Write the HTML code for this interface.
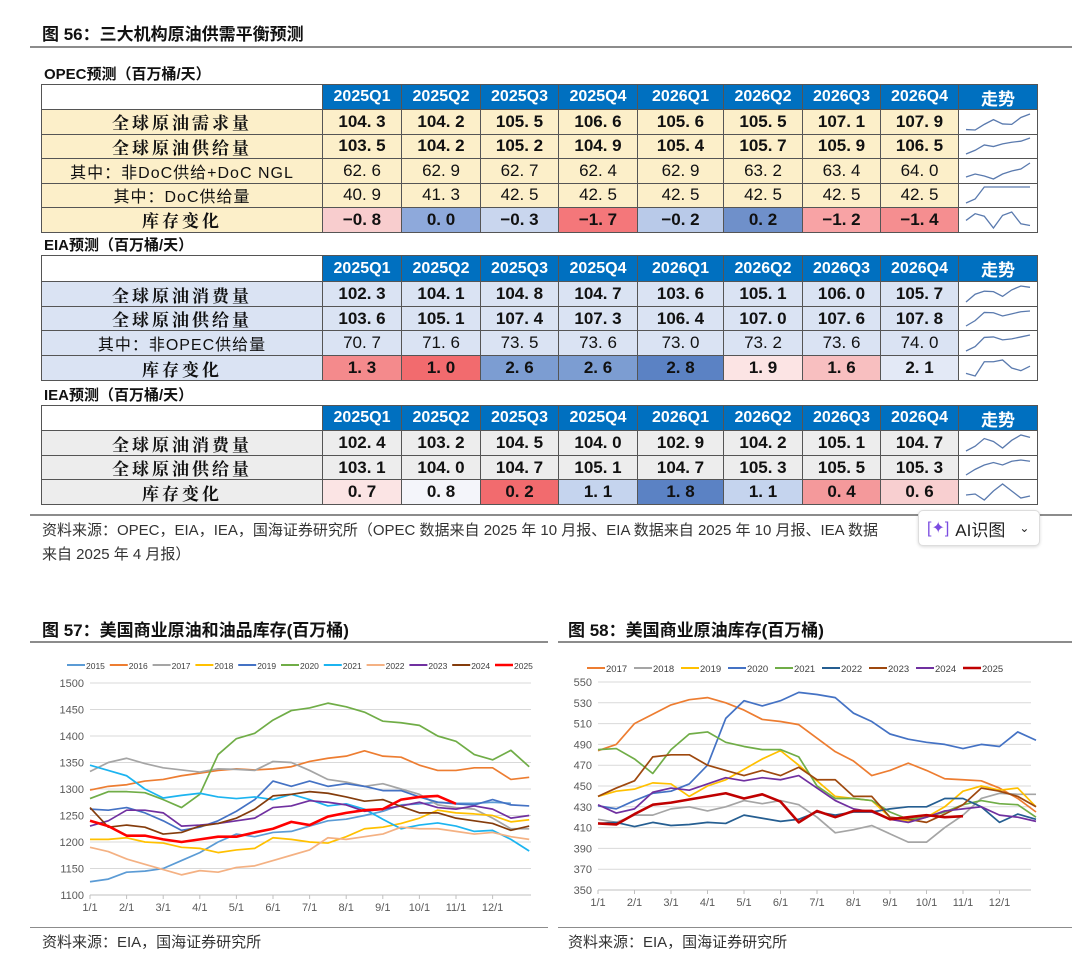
<!DOCTYPE html>
<html><head><meta charset="utf-8">
<style>
body{margin:0;width:1080px;height:966px;background:#fff;position:relative;overflow:hidden;font-family:"Liberation Sans","Noto Sans CJK SC",sans-serif;}
.abs{position:absolute;}
.title{font-weight:bold;font-size:17px;color:#111;font-family:"Liberation Sans","Noto Sans CJK SC",sans-serif;}
.sub{font-weight:bold;font-size:15px;color:#111;}
.hr{position:absolute;height:2px;background:#8c8c8c;}
.cell{position:absolute;box-sizing:border-box;border:1px solid #555;display:flex;align-items:center;justify-content:center;font-size:17px;color:#111;white-space:nowrap;}
.src{font-size:15px;color:#333;white-space:nowrap;}
</style></head><body>
<div class="abs title" style="left:42px;top:20px;">图 56：三大机构原油供需平衡预测</div>
<div class="hr" style="left:30px;top:46px;width:1042px;"></div>
<div class="abs sub" style="left:44px;top:63px;">OPEC预测（百万桶/天）</div>
<div class="abs sub" style="left:44px;top:234px;">EIA预测（百万桶/天）</div>
<div class="abs sub" style="left:44px;top:384px;">IEA预测（百万桶/天）</div>
<div id="tables"></div>
<div class="hr" style="left:30px;top:514px;width:1042px;"></div>
<div class="abs src" style="left:42px;top:519px;">资料来源：OPEC，EIA，IEA，国海证券研究所（OPEC 数据来自 2025 年 10 月报、EIA 数据来自 2025 年 10 月报、IEA 数据</div>
<div class="abs src" style="left:42px;top:543px;">来自 2025 年 4 月报）</div>
<div class="abs" style="left:918px;top:510px;width:120px;height:34px;background:#fff;border:1px solid #ddd;border-radius:5px;box-shadow:0 1px 3px rgba(0,0,0,.15);font-size:17px;color:#222;display:flex;align-items:center;"><span style="color:#7b4ce0;margin:0 6px 0 8px;font-size:16px;">[✦]</span>AI识图<span style="margin-left:14px;font-size:12px;">⌄</span></div>

<div class="abs title" style="left:42px;top:616px;">图 57：美国商业原油和油品库存(百万桶)</div>
<div class="abs title" style="left:568px;top:616px;">图 58：美国商业原油库存(百万桶)</div>
<div class="hr" style="left:30px;top:641px;width:518px;"></div>
<div class="hr" style="left:558px;top:641px;width:514px;"></div>
<svg id="charts" class="abs" style="left:0;top:0" width="1080" height="966"></svg>
<div class="hr" style="left:30px;top:927px;width:518px;height:1px;"></div>
<div class="hr" style="left:558px;top:927px;width:514px;height:1px;"></div>
<div class="abs src" style="left:42px;top:931px;">资料来源：EIA，国海证券研究所</div>
<div class="abs src" style="left:568px;top:931px;">资料来源：EIA，国海证券研究所</div>

<script>
// ---------- table data ----------
const quarters=["2025Q1","2025Q2","2025Q3","2025Q4","2026Q1","2026Q2","2026Q3","2026Q4"];
const opecLabels=["全球原油需求量","全球原油供给量","其中：非DoC供给+DoC NGL","其中：DoC供给量","库存变化"];
const opecDemand=[104.3,104.2,105.5,106.6,105.6,105.5,107.1,107.9];
const opecSupply=[103.5,104.2,105.2,104.9,105.4,105.7,105.9,106.5];
const opecNonDoc=[62.6,62.9,62.7,62.4,62.9,63.2,63.4,64.0];
const opecDoc=[40.9,41.3,42.5,42.5,42.5,42.5,42.5,42.5];
const opecStock=[-0.8,0.0,-0.3,-1.7,-0.2,0.2,-1.2,-1.4];
const eiaLabels=["全球原油消费量","全球原油供给量","其中：非OPEC供给量","库存变化"];
const eiaDemand=[102.3,104.1,104.8,104.7,103.6,105.1,106.0,105.7];
const eiaSupply=[103.6,105.1,107.4,107.3,106.4,107.0,107.6,107.8];
const eiaNonOpec=[70.7,71.6,73.5,73.6,73.0,73.2,73.6,74.0];
const eiaStock=[1.3,1.0,2.6,2.6,2.8,1.9,1.6,2.1];
const ieaLabels=["全球原油消费量","全球原油供给量","库存变化"];
const ieaDemand=[102.4,103.2,104.5,104.0,102.9,104.2,105.1,104.7];
const ieaSupply=[103.1,104.0,104.7,105.1,104.7,105.3,105.5,105.3];
const ieaStock=[0.7,0.8,0.2,1.1,1.8,1.1,0.4,0.6];
const opecStockColors=["#F8CDCE","#8EA9DB","#C9D6EE","#F4777A","#B9CAE9","#6F90CA","#F8A3A5","#F58E90"];
const eiaStockColors=["#F48A8C","#F26B6E","#7C9DD2","#7C9DD2","#5B82C4","#FCE4E4","#F8BFC0","#E3E9F6"];
const ieaStockColors=["#FBE4E4","#F4F5FA","#F26B6E","#C5D4EE","#5B82C4","#C5D4EE","#F4999B","#F8CFD0"];

const colX=[41,322,401,480,558,637,723,802,880,958,1037];
const T=document.getElementById('tables');
function cell(x,y,w,h,txt,bg){
  const d=document.createElement('div');
  d.className='cell';
  d.style.left=x+'px';d.style.top=y+'px';d.style.width=(w+1)+'px';d.style.height=(h+1)+'px';
  d.style.background=bg;
  if(txt!==null)d.textContent=txt;
  T.appendChild(d);return d;
}
function spark(d,vals){
  const w=d.offsetWidth||80,h=d.offsetHeight||25;
  const mn=Math.min(...vals),mx=Math.max(...vals),r=(mx-mn)||1;
  const ns="http://www.w3.org/2000/svg";
  const s=document.createElementNS(ns,'svg');s.setAttribute('width',w);s.setAttribute('height',h);
  const p=document.createElementNS(ns,'polyline');
  p.setAttribute('points',vals.map((v,i)=>(7+i*(w-16)/(vals.length-1))+','+(h-5-(v-mn)/r*(h-10))).join(' '));
  p.setAttribute('fill','none');p.setAttribute('stroke','#5A7AAE');p.setAttribute('stroke-width','1.3');
  s.appendChild(p);d.appendChild(s);
}
function fmt(v){return (v<0?'−':'')+Math.abs(v).toFixed(1).replace('.','. ');}
function table(name,y0,labels,rows,rowBg,stockColors,rowsY,boldRows){
  const h0=cell(colX[0],y0,colX[1]-colX[0],rowsY[0]-y0,'','#fff');
  
  
  for(let q=0;q<8;q++){
    const c=cell(colX[q+1],y0,colX[q+2]-colX[q+1],rowsY[0]-y0,quarters[q],'#0070C0');
    c.style.color='#fff';c.style.fontWeight='bold';c.style.fontSize='16px';
    
    
  }
  const tr=cell(colX[9],y0,colX[10]-colX[9],rowsY[0]-y0,'走势','#0070C0');
  tr.style.color='#fff';tr.style.fontWeight='bold';
  
  
  rows.forEach((vals,r)=>{
    const y=rowsY[r],hh=rowsY[r+1]-rowsY[r];
    const isStock=r===rows.length-1;
    const lc=cell(colX[0],y,colX[1]-colX[0],hh,labels[r],rowBg);
    if(boldRows[r]){lc.style.fontFamily='"Noto Serif CJK SC","Liberation Serif",serif';lc.style.fontWeight='bold';lc.style.letterSpacing='3px';}
    else{lc.style.fontFamily='"Liberation Sans","Noto Sans CJK SC",sans-serif';lc.style.letterSpacing='1px';lc.style.fontSize='16px';}
    
    
    vals.forEach((v,q)=>{
      const c=cell(colX[q+1],y,colX[q+2]-colX[q+1],hh,fmt(v),isStock?stockColors[q]:rowBg);
      c.style.fontWeight=boldRows[r]?'bold':'normal';
      
      
    });
    const sc=cell(colX[9],y,colX[10]-colX[9],hh,null,'#fff');
    
    
    spark(sc,vals);
  });
}
table('opec',84,opecLabels,[opecDemand,opecSupply,opecNonDoc,opecDoc,opecStock],'#FCEFC9',opecStockColors,[109,133.5,158,182.5,207,231.5],[1,1,0,0,1]);
table('eia',255,eiaLabels,[eiaDemand,eiaSupply,eiaNonOpec,eiaStock],'#DAE3F3',eiaStockColors,[281,306,330,355,380],[1,1,0,1]);
table('iea',405,ieaLabels,[ieaDemand,ieaSupply,ieaStock],'#EDEDED',ieaStockColors,[430,455,479,504],[1,1,1]);

// ---------- chart 57 data (half-month points 1/1 .. 12/31) ----------
const c57Years=["2015","2016","2017","2018","2019","2020","2021","2022","2023","2024","2025"];
const c57_2015=[1125,1130,1143,1145,1150,1165,1180,1200,1215,1210,1218,1220,1230,1240,1243,1250,1258,1270,1272,1275,1273,1273,1275,1273,null];
const c57_2016=[1298,1305,1308,1315,1318,1325,1330,1335,1338,1336,1338,1342,1352,1358,1362,1372,1362,1360,1345,1335,1335,1340,1340,1318,1322];
const c57_2017=[1333,1350,1358,1348,1340,1336,1332,1338,1337,1335,1352,1350,1335,1318,1313,1305,1310,1300,1290,1270,1265,1262,1245,1225,1225];
const c57_2018=[1205,1205,1208,1200,1198,1190,1188,1180,1185,1188,1208,1205,1200,1198,1210,1225,1228,1235,1245,1260,1255,1253,1250,1238,1242];
const c57_2019=[1262,1260,1265,1255,1240,1222,1228,1240,1258,1280,1315,1305,1315,1305,1310,1305,1297,1297,1285,1275,1272,1270,1280,1270,1268];
const c57_2020=[1282,1295,1295,1293,1280,1265,1290,1365,1395,1405,1430,1448,1453,1462,1455,1445,1428,1425,1420,1400,1390,1365,1355,1373,1342];
const c57_2021=[1345,1335,1325,1300,1283,1288,1292,1285,1282,1285,1280,1290,1280,1268,1272,1262,1243,1225,1232,1236,1230,1220,1222,1205,1183];
const c57_2022=[1190,1182,1168,1158,1148,1138,1146,1143,1152,1155,1165,1175,1185,1208,1205,1210,1215,1228,1225,1225,1220,1215,1218,1210,1205];
const c57_2023=[1230,1240,1260,1260,1255,1230,1232,1235,1240,1245,1265,1268,1278,1275,1270,1258,1262,1268,1275,1265,1262,1268,1262,1245,1250];
const c57_2024=[1265,1228,1232,1228,1215,1218,1230,1235,1245,1262,1287,1290,1295,1292,1285,1277,1280,1267,1255,1255,1245,1240,1235,1222,1230];
const c57_2025=[1240,1230,1212,1212,1205,1200,1205,1210,1210,1218,1225,1238,1232,1248,1255,1260,1262,1280,1285,1287,1272];
const c57Series=[c57_2015,c57_2016,c57_2017,c57_2018,c57_2019,c57_2020,c57_2021,c57_2022,c57_2023,c57_2024,c57_2025];
const c57Colors=["#5B9BD5","#ED7D31","#A5A5A5","#FFC000","#4472C4","#70AD47","#1CB4F0","#F4B183","#7030A0","#843C0C","#FF0000"];
const c57Ticks=[1100,1150,1200,1250,1300,1350,1400,1450,1500];
const monthLabels=["1/1","2/1","3/1","4/1","5/1","6/1","7/1","8/1","9/1","10/1","11/1","12/1"];

// ---------- chart 58 data ----------
const c58Years=["2017","2018","2019","2020","2021","2022","2023","2024","2025"];
const c58_2017=[484,490,510,519,528,533,535,530,523,514,512,509,496,483,474,460,465,472,465,457,456,455,448,438,425];
const c58_2018=[418,415,422,422,428,430,426,430,436,433,436,432,420,405,408,412,404,396,396,410,422,438,443,442,442];
const c58_2019=[440,445,447,453,452,440,450,456,466,476,484,470,455,440,438,436,420,416,420,430,445,450,446,448,430];
const c58_2020=[431,428,436,443,445,452,470,515,532,527,532,540,538,535,520,512,500,495,492,490,486,490,488,502,494];
const c58_2021=[485,486,476,462,485,500,502,492,488,485,485,478,450,438,438,436,425,418,420,425,432,436,433,432,420];
const c58_2022=[414,415,411,415,412,413,415,414,422,419,416,418,425,422,425,425,428,430,430,438,438,430,415,423,418];
const c58_2023=[440,448,455,478,480,480,470,465,460,465,460,468,456,456,440,440,420,418,415,423,432,448,445,440,430];
const c58_2024=[432,424,428,444,448,446,452,458,455,458,456,460,448,436,428,425,418,415,420,426,428,430,422,420,416];
const c58_2025=[414,413,423,432,434,437,440,443,438,442,435,415,426,420,426,426,418,420,422,420,421];
const c58Series=[c58_2017,c58_2018,c58_2019,c58_2020,c58_2021,c58_2022,c58_2023,c58_2024,c58_2025];
const c58Colors=["#ED7D31","#A5A5A5","#FFC000","#4472C4","#70AD47","#255E91","#9E480E","#7030A0","#C00000"];
const c58Ticks=[350,370,390,410,430,450,470,490,510,530,550];

const NS="http://www.w3.org/2000/svg";
const S=document.getElementById('charts');
function el(tag,attrs){const e=document.createElementNS(NS,tag);for(const k in attrs)e.setAttribute(k,attrs[k]);S.appendChild(e);return e;}
function chart(cfg){
  const X=i=>cfg.x0+i*cfg.mw/2;
  const Y=v=>cfg.yb-(v-cfg.vmin)/(cfg.vmax-cfg.vmin)*(cfg.yb-cfg.yt);
  cfg.ticks.forEach(t=>{
    const g=el('line',{x1:cfg.x0,x2:cfg.x1,y1:Y(t),y2:Y(t),stroke:'#D9D9D9','stroke-width':1});
    
    
    const tx=el('text',{x:cfg.x0-6,y:Y(t)+4,'text-anchor':'end','font-size':11,fill:'#595959','font-family':'Liberation Sans, sans-serif'});
    tx.textContent=t;
    
    
  });
  const ax=el('line',{x1:cfg.x0,x2:cfg.x1,y1:cfg.yb,y2:cfg.yb,stroke:'#BFBFBF','stroke-width':1});
  
  
  monthLabels.forEach((m,i)=>{
    const tk=el('line',{x1:X(i*2),x2:X(i*2),y1:cfg.yb,y2:cfg.yb+4,stroke:'#BFBFBF'});
    
    
    const tx=el('text',{x:X(i*2),y:cfg.yb+16,'text-anchor':'middle','font-size':11,fill:'#595959','font-family':'Liberation Sans, sans-serif'});
    tx.textContent=m;
    
    
  });
  cfg.series.forEach((vals,s)=>{
    const pts=[];vals.forEach((v,i)=>{if(v!==null)pts.push(X(i)+','+Y(v));});
    const last=s===cfg.series.length-1;
    const p=el('polyline',{points:pts.join(' '),fill:'none',stroke:cfg.colors[s],'stroke-width':last?2.6:1.7,'stroke-linejoin':'round'});
    
    
    const lx=cfg.lx0+s*cfg.lstep;
    const lg=el('line',{x1:lx,x2:lx+18,y1:cfg.ly,y2:cfg.ly,stroke:cfg.colors[s],'stroke-width':last?2.6:2});
    
    
    const lt=el('text',{x:lx+19,y:cfg.ly+4,'font-size':cfg.lfs,fill:'#404040','font-family':'Liberation Sans, sans-serif'});
    lt.textContent=cfg.years[s];
    
    
  });
}
chart({name:'chart57',x0:90,x1:531,mw:36.6,yt:683,yb:895,vmin:1100,vmax:1500,ticks:c57Ticks,series:c57Series,colors:c57Colors,years:c57Years,lx0:67,lstep:42.8,ly:665,lfs:8.5});
chart({name:'chart58',x0:598,x1:1031,mw:36.5,yt:682,yb:890,vmin:350,vmax:550,ticks:c58Ticks,series:c58Series,colors:c58Colors,years:c58Years,lx0:587,lstep:47,ly:668,lfs:9.5});
</script>
</body></html>
